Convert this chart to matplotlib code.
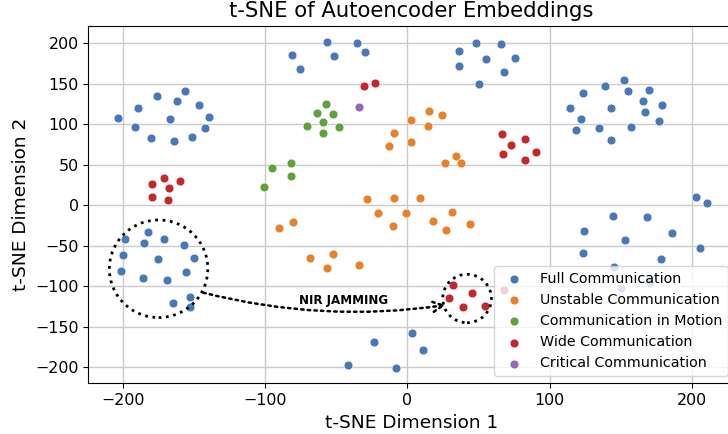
import matplotlib
matplotlib.use("Agg")
import matplotlib.pyplot as plt
from matplotlib.patches import Ellipse

# ---- data ----
categories = ["Full Communication", "Unstable Communication",
              "Communication in Motion", "Wide Communication",
              "Critical Communication"]
colors = ["#4A78B6", "#E8822A", "#62A03C", "#C2282D", "#9467BD"]

full_x = [-203.5, -189.5, -175.9, -156.2, -161.6, -146.4, -139.1, -142.4, -151.1, -164.2, -180.1, -191.4, -166.8,
          -80.8, -75.6, -56.4, -51.3, -35.1, -29.7,
          36.5, 48.5, 66.1, 55.1, 75.7, 36.5, 67.7, 50.6,
          114.5, 123.7, 139.1, 152.3, 155.1, 169.9, 165.8, 179.2, 167.3, 177.1, 143.1, 121.9, 118.3, 134.7, 157.4, 143.4,
          202.7, 210.6, 144.8, 168.2, 124.0, 185.8, 153.0, 205.5, 123.3, 178.5, 145.3, 150.0, 170.6,
          -182.4, -198.4, -185.2, -171.0, -157.1, -199.8, -175.2, -149.7, -201.4, -185.5, -168.7, -155.7, -152.7, -164.9, -152.5,
          -23.6, -41.5, -7.9, 3.5, 11.0]
full_y = [107.4, 120.1, 134.9, 141.1, 129.1, 123.8, 109.4, 95.8, 84.7, 79.4, 83.1, 96.7, 106.5,
          185.6, 167.9, 201.2, 184.3, 200.4, 189.6,
          190.5, 200.7, 198.8, 180.6, 181.5, 172.0, 164.9, 149.8,
          120.1, 138.6, 147.3, 154.3, 140.7, 142.7, 129.1, 123.5, 114.8, 104.1, 120.1, 106.9, 93.3, 95.4, 96.7, 81.0,
          9.9, 3.2, -12.8, -14.1, -31.4, -33.8, -42.5, -52.3, -58.5, -66.7, -76.5, -102.1, -96.3,
          -33.3, -41.2, -46.5, -41.6, -48.6, -61.0, -66.7, -65.4, -80.7, -89.4, -91.9, -82.3, -112.8, -120.2, -125.9,
          -169.1, -197.2, -200.5, -157.7, -178.6]

unstable_x = [2.8, -9.1, -12.6, 2.8, 15.2, 24.4, 14.3, 34.4, 26.5, 37.7, 8.9,
              -90.4, -80.3, -68.6, -52.0, -56.4, -33.9,
              -28.5, -9.6, -20.6, -0.9, -9.8, 18.3, 31.6, 27.4, 44.1]
unstable_y = [104.9, 89.3, 73.6, 78.1, 116.4, 111.5, 97.5, 60.9, 52.2, 52.2, 9.4,
              -27.7, -20.2, -65.1, -59.8, -77.4, -74.1,
              7.4, 9.0, -9.5, -9.5, -25.2, -19.8, -7.9, -30.9, -22.7]

motion_x = [-56.9, -63.7, -52.0, -59.2, -70.5, -48.2, -59.5, -81.5, -94.9, -81.5, -100.9]
motion_y = [125.1, 114.3, 113.1, 102.5, 97.9, 97.0, 89.6, 51.9, 45.7, 36.5, 22.6]

wide_x = [-30.4, -22.9, -171.2, -179.4, -159.9, -167.7, -179.2, -168.2,
          66.3, 82.7, 73.1, 67.0, 90.7, 82.7,
          32.1, 29.3, 45.5, 38.9, 54.6, 68.0]
wide_y = [147.3, 151.0, 34.1, 25.9, 30.0, 21.7, 10.2, 6.2,
          88.0, 81.9, 74.1, 63.3, 65.4, 56.3,
          -98.4, -114.1, -108.6, -125.2, -124.0, -104.6]

critical_x = [-34.2]
critical_y = [121.7]

series = [(full_x, full_y), (unstable_x, unstable_y), (motion_x, motion_y),
          (wide_x, wide_y), (critical_x, critical_y)]

# ---- plot ----
fig = plt.figure(figsize=(7.28, 4.34), dpi=100)
ax = fig.add_axes([0.1213, 0.1168, 0.8883, 0.824])
ax.set_axisbelow(True)
ax.grid(True, color="#cbcbcb", linewidth=1.0)

for (xs, ys), lab, col in zip(series, categories, colors):
    ax.scatter(xs, ys, s=40, c=col, edgecolors="white", linewidths=0.4,
               label=lab, zorder=3)

ax.set_xlim(-224.2, 230.3)
ax.set_ylim(-219.8, 221.7)
ax.set_xticks([-200, -100, 0, 100, 200])
ax.set_yticks([-200, -150, -100, -50, 0, 50, 100, 150, 200])
ax.tick_params(labelsize=11.4)

ax.set_title("t-SNE of Autoencoder Embeddings", fontsize=15.2)
ax.set_xlabel("t-SNE Dimension 1", fontsize=13.3)
ax.set_ylabel("t-SNE Dimension 2", fontsize=13.3)

# annotations
ax.add_patch(Ellipse((-174.8, -78.4), 69.2, 120.5, fill=False,
                     edgecolor="black", linestyle=":", linewidth=2, zorder=4))
ax.add_patch(Ellipse((42.0, -115.1), 34.2, 59.8, fill=False,
                     edgecolor="black", linestyle=":", linewidth=2, zorder=4))
ax.annotate("", xy=(27.0, -123.1), xytext=(-143.4, -107.9),
            arrowprops=dict(arrowstyle="->", linestyle=":", linewidth=1.8,
                            color="black", mutation_scale=18,
                            connectionstyle="arc3,rad=0.1",
                            shrinkA=0, shrinkB=0), zorder=4)
ax.text(-44.5, -118.1, "NIR JAMMING", fontsize=8.6, fontweight="bold",
        ha="center", va="center", zorder=5)

ax.legend(loc="lower right", fontsize=10.3)

fig.savefig("out.png", dpi=100)
